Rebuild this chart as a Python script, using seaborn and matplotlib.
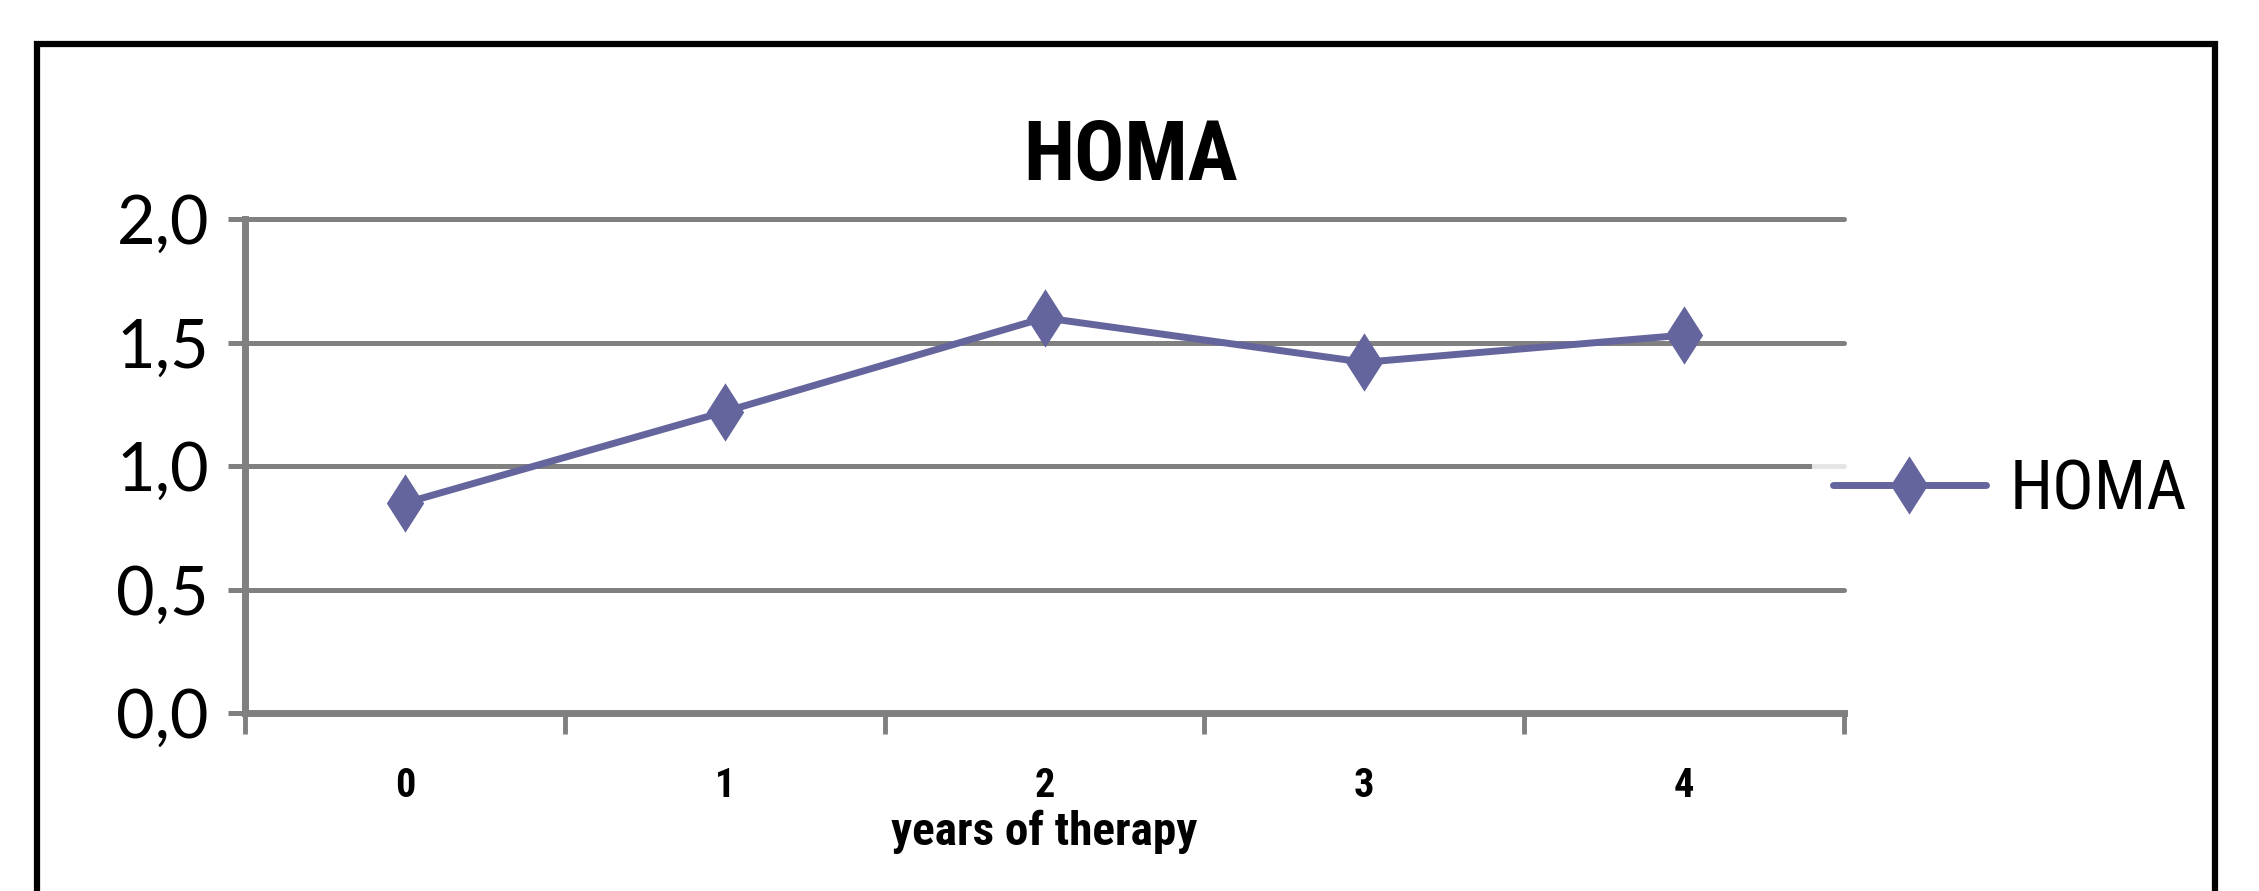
"""HOMA a lo largo de los años de terapia."""
import pandas as pd
import matplotlib.pyplot as plt
import seaborn as sns
from matplotlib import font_manager
from matplotlib.path import Path
from matplotlib.patches import Rectangle

# Datos
years = [0, 1, 2, 3, 4]
year_labels = ['0', '1', '2', '3', '4']
homa = [0.85, 1.22, 1.60, 1.42, 1.53]
y_ticks = [0.0, 0.5, 1.0, 1.5, 2.0]
y_labels = ['0,0', '0,5', '1,0', '1,5', '2,0']

LINE = '#65659d'
GRAY = '#808080'
ROUND = ['Lato', 'Open Sans', 'DejaVu Sans']


def pick_narrow():
    fonts = font_manager.fontManager.ttflist
    names = {f.name for f in fonts}
    for n in ['Liberation Sans Narrow', 'Arial Narrow', 'Roboto Condensed']:
        if n in names:
            return [n, 'DejaVu Sans'], 'normal'
    if any(f.name == 'DejaVu Sans' and f.stretch == 'condensed' for f in fonts):
        return ['DejaVu Sans'], 'condensed'
    return ['Liberation Sans', 'DejaVu Sans'], 'normal'


def main():
    sns.set_theme(style='white')
    narrow, stretch = pick_narrow()
    plt.rcParams['font.family'] = narrow
    plt.rcParams['font.stretch'] = stretch
    plt.rcParams['text.color'] = 'black'
    plt.rcParams['axes.labelcolor'] = 'black'
    plt.rcParams['xtick.labelcolor'] = 'black'
    plt.rcParams['ytick.labelcolor'] = 'black'

    df = pd.DataFrame({'year': years, 'HOMA': homa})

    fig = plt.figure(figsize=(22.59, 8.91), dpi=100)
    ax = fig.add_axes([245 / 2259, 1 - 713 / 891, (1844 - 245) / 2259, (713 - 219) / 891])

    # Marco negro alrededor del gráfico
    fig.patches.append(Rectangle((37 / 2259, -0.2), (2215 - 37) / 2259, 1.2 - 44 / 891,
                                 transform=fig.transFigure, fill=False,
                                 edgecolor='black', linewidth=4.5, zorder=0))

    diamond = Path([(0, 1), (0.64, 0), (0, -1), (-0.64, 0), (0, 1)],
                   [Path.MOVETO, Path.LINETO, Path.LINETO, Path.LINETO, Path.CLOSEPOLY])

    sns.lineplot(data=df, x='year', y='HOMA', ax=ax, color=LINE, linewidth=5,
                 marker=diamond, markersize=42, markeredgewidth=0,
                 markerfacecolor=LINE, label='HOMA', zorder=5)

    ax.set_xlim(-0.5, 4.5)
    ax.set_ylim(0, 2.0)
    ax.set_yticks(y_ticks)
    ax.set_yticklabels(y_labels, fontfamily=ROUND, fontsize=48, fontstretch='normal')
    ax.yaxis.grid(True, color=GRAY, linewidth=3.6)
    for gl in ax.get_ygridlines():
        gl.set_clip_on(False)
    ax.set_axisbelow(True)

    # Ticks entre categorías, etiquetas en el centro
    ax.set_xticks([-0.5, 0.5, 1.5, 2.5, 3.5, 4.5])
    ax.set_xticklabels([])
    ax.set_xticks(years, minor=True)
    ax.set_xticklabels(year_labels, minor=True, fontsize=29, fontweight='bold')
    ax.tick_params(axis='x', which='major', direction='out', length=15, width=3.5,
                   color=GRAY, bottom=True)
    ax.tick_params(axis='x', which='minor', length=0, pad=39, bottom=True)
    ax.tick_params(axis='y', direction='out', length=12, width=3.6, color=GRAY,
                   pad=14, left=True)

    for side in ['top', 'right']:
        ax.spines[side].set_visible(False)
    for side in ['left', 'bottom']:
        ax.spines[side].set_color(GRAY)
        ax.spines[side].set_linewidth(5)

    ax.set_xlabel('years of therapy', fontsize=34, fontweight='bold', labelpad=3)
    ax.set_ylabel('')

    fig.text(1131 / 2259, 1 - 180 / 891, 'HOMA', ha='center', va='baseline',
             fontsize=60, fontweight='bold')

    leg = ax.legend(loc='center left', bbox_to_anchor=(1812 / 2259, 1 - 490 / 891),
                    bbox_transform=fig.transFigure, frameon=True, fancybox=False,
                    borderpad=0.3, borderaxespad=0, handlelength=2.2,
                    handletextpad=0.35, fontsize=50)
    leg.get_frame().set_facecolor('white')
    leg.get_frame().set_edgecolor('none')

    fig.savefig('out.png', dpi=100, facecolor='white')
    plt.close(fig)


if __name__ == '__main__':
    main()
